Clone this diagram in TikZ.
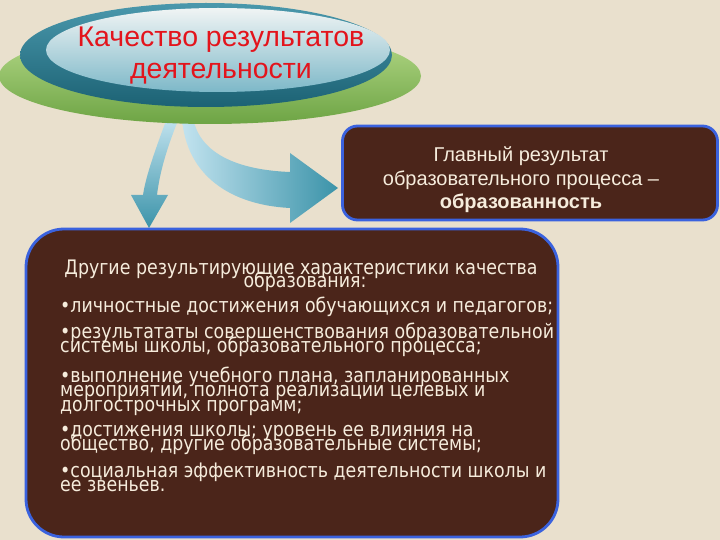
\documentclass[tikz,border=0pt]{standalone}
\usepackage{fontspec}
\setmainfont{Liberation Sans}
\newfontfamily\dejavun[FakeStretch=0.87]{DejaVu Sans}
\usetikzlibrary{shapes.geometric}
\definecolor{bg}{HTML}{E9E0CD}
\definecolor{boxfill}{HTML}{4B251A}
\definecolor{boxline}{HTML}{3A62DE}
\definecolor{cream}{HTML}{F6ECDC}
\definecolor{titlered}{HTML}{E3141C}
\definecolor{arrowlight}{HTML}{C2E3EF}
\definecolor{arrowdark}{HTML}{3B93A9}
\definecolor{greentop}{HTML}{B9DC8C}
\definecolor{greenbot}{HTML}{6DA444}
\definecolor{tealtop}{HTML}{4A98AC}
\definecolor{tealbot}{HTML}{1C6274}
\definecolor{lightin}{HTML}{F0F4F4}
\definecolor{lightmid}{HTML}{C6DDE4}
\definecolor{lightout}{HTML}{7DB8C8}
\tikzset{
  roundbox/.style={draw=boxline, fill=boxfill, line width=2.8pt},
  itemtxt/.style={anchor=base west, inner sep=0pt, text=cream,
    font=\dejavun\fontsize{20}{14.5}\selectfont},
  headtxt/.style={anchor=base, inner sep=0pt, text=cream,
    font=\dejavun\fontsize{20}{14.5}\selectfont},
  restxt/.style={anchor=base, inner sep=0pt, text=cream,
    font=\fontsize{20}{24}\selectfont},
  titletxt/.style={anchor=base, inner sep=0pt, text=titlered,
    font=\fontsize{28.5}{32}\selectfont},
}
\begin{document}
\begin{tikzpicture}[x=1pt,y=-1pt]
\useasboundingbox (0,0) rectangle (720,540);
\fill[bg] (0,0) rectangle (720,540);

% arrows (behind the ellipse)
\coordinate (a1tip) at (149,228);
\coordinate (a2tip) at (338,188);
\shade[top color=arrowlight, bottom color=arrowdark]
  (167,118) .. controls (156,148) and (146,175) .. (143,195)
  -- (131,195) -- (a1tip) -- (168,195) -- (157,195)
  .. controls (160,170) and (168,145) .. (179,118) -- cycle;
\shade[left color=arrowlight, right color=arrowdark]
  (182,118) .. controls (186,175) and (230,205) .. (290,208)
  -- (290,223) -- (a2tip) -- (290,153) -- (290,172)
  .. controls (240,170) and (200,155) .. (193,118) -- cycle;

% title ellipses
\shade[top color=greentop, bottom color=greenbot] (210,76) ellipse [x radius=211pt, y radius=48pt];
\shade[top color=tealtop, bottom color=tealbot] (206,55) ellipse [x radius=186pt, y radius=52pt];
\shade[top color=lightin, middle color=lightmid, bottom color=lightout] (218,50) ellipse [x radius=172pt, y radius=42pt];
\node[titletxt] (title1) at (221,47) {Качество результатов};
\node[titletxt] (title2) at (221,79) {деятельности};

% right box
\node[roundbox, rounded corners=15pt, minimum width=375pt, minimum height=94pt, inner sep=0pt]
  (result) at (530,173) {};
\node[restxt] (r1) at (521,162) {Главный результат};
\node[restxt] (r2) at (521,186) {образовательного процесса –};
\node[restxt, font=\bfseries\fontsize{20}{24}\selectfont] (r3) at (521,209) {образованность};

% big box
\node[roundbox, rounded corners=38pt, minimum width=532pt, minimum height=308pt, inner sep=0pt]
  (others) at (292,383) {};
\node[headtxt] (h1) at (301,274) {Другие результирующие характеристики качества};
\node[headtxt] (h2) at (305,287) {образования:};
\node[itemtxt] (i1) at (60,312) {•личностные достижения обучающихся и педагогов;};
\node[itemtxt] (i2a) at (60,338.5) {•результататы совершенствования образовательной};
\node[itemtxt] (i2b) at (60,352.5) {системы школы, образовательного процесса;};
\node[itemtxt] (i3a) at (60,382) {•выполнение учебного плана, запланированных};
\node[itemtxt] (i3b) at (60,396.5) {мероприятий, полнота реализации целевых и};
\node[itemtxt] (i3c) at (60,411) {долгострочных программ;};
\node[itemtxt] (i4a) at (60,436.5) {•достижения школы; уровень ее влияния на};
\node[itemtxt] (i4b) at (60,450.5) {общество, другие образовательные системы;};
\node[itemtxt] (i5a) at (60,477.5) {•социальная эффективность деятельности школы и};
\node[itemtxt] (i5b) at (60,491.5) {ее звеньев.};
\end{tikzpicture}
\end{document}
